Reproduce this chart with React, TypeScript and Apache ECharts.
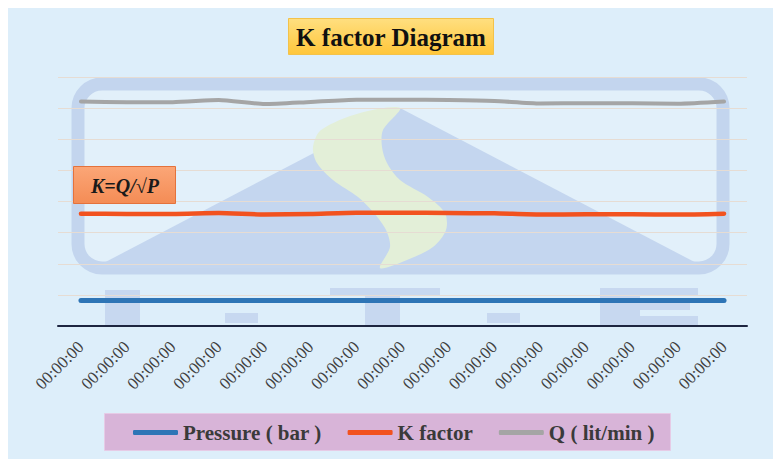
import React, { useEffect, useRef } from 'react';
import * as echarts from 'echarts';

const categories: string[] = [
  '00:00:00', '00:00:00', '00:00:00', '00:00:00', '00:00:00',
  '00:00:00', '00:00:00', '00:00:00', '00:00:00', '00:00:00',
  '00:00:00', '00:00:00', '00:00:00', '00:00:00', '00:00:00',
];

const pressure: number[] = [8.2, 8.2, 8.2, 8.2, 8.2, 8.2, 8.2, 8.2, 8.2, 8.2, 8.2, 8.2, 8.2, 8.2, 8.2];
const kFactor: number[] = [36.1, 36.0, 36.0, 36.3, 35.8, 36.0, 36.4, 36.4, 36.3, 36.2, 35.8, 35.9, 35.9, 35.8, 36.1];
const flow: number[] = [72.1, 71.9, 71.9, 72.6, 71.3, 72.0, 72.7, 72.7, 72.6, 72.3, 71.5, 71.6, 71.6, 71.4, 72.1];

const seriesNames: string[] = ['Pressure ( bar )', 'K factor', 'Q ( lit/min )'];
const seriesColors: string[] = ['#2e75b6', '#f2521f', '#a5a5a5'];

const yMin = 0;
const yMax = 80;
const yInterval = 10;

const titleText = 'K factor Diagram';
const formulaText = 'K=Q/√P';

const SERIF = 'Liberation Serif';

const sPoints: number[][] = [
  [400, 108], [383, 130], [382, 147], [387, 163], [400, 180], [428, 197], [445, 213],
  [446, 230], [433, 247], [402, 262], [380, 268], [390, 247], [386, 230], [374, 213],
  [358, 197], [333, 180], [317, 163], [313, 147], [321, 130], [360, 113],
];

export default function App() {
  const ref = useRef<HTMLDivElement>(null);

  useEffect(() => {
    if (!ref.current) return;
    const chart = echarts.init(ref.current, undefined, { renderer: 'svg' });

    const wm = '#c7d8f0';
    const watermark: any[] = [
      {
        type: 'rect', z: -10, silent: true,
        shape: { x: 70, y: 76, width: 645, height: 184, r: 24 },
        style: { fill: 'rgba(255,255,255,0.15)', stroke: '#c3d5ee', lineWidth: 13 },
      },
      {
        type: 'polygon', z: -10, silent: true,
        shape: { points: [[392, 100], [86, 260], [698, 260]] },
        style: { fill: '#c4d6ef' },
      },
      {
        type: 'polygon', z: -9, silent: true,
        shape: {
          smooth: 0.3,
          points: sPoints.map((p) => [p[0] - 8, p[1] - 8]),
        },
        style: { fill: '#e3efd8' },
      },
      { type: 'rect', z: -10, silent: true, shape: { x: 97, y: 282, width: 35, height: 35 }, style: { fill: wm } },
      { type: 'rect', z: -10, silent: true, shape: { x: 217, y: 305, width: 33, height: 10 }, style: { fill: wm } },
      { type: 'rect', z: -10, silent: true, shape: { x: 322, y: 280, width: 110, height: 8 }, style: { fill: wm } },
      { type: 'rect', z: -10, silent: true, shape: { x: 357, y: 288, width: 35, height: 29 }, style: { fill: wm } },
      { type: 'rect', z: -10, silent: true, shape: { x: 479, y: 305, width: 33, height: 10 }, style: { fill: wm } },
      { type: 'rect', z: -10, silent: true, shape: { x: 592, y: 280, width: 40, height: 37 }, style: { fill: wm } },
      { type: 'rect', z: -10, silent: true, shape: { x: 592, y: 280, width: 98, height: 8 }, style: { fill: wm } },
      { type: 'rect', z: -10, silent: true, shape: { x: 592, y: 295, width: 90, height: 7 }, style: { fill: wm } },
      { type: 'rect', z: -10, silent: true, shape: { x: 592, y: 308, width: 98, height: 9 }, style: { fill: wm } },
    ];

    const boxes: any[] = [
      {
        type: 'rect', z: 10,
        shape: { x: 280.5, y: 10.5, width: 205, height: 36 },
        style: {
          fill: new echarts.graphic.LinearGradient(0, 0, 0, 1, [
            { offset: 0, color: '#ffdf80' },
            { offset: 1, color: '#ffc63a' },
          ]),
          stroke: '#f3c24a', lineWidth: 1,
        },
      },
      {
        type: 'text', z: 11,
        style: {
          text: titleText, x: 383, y: 29,
          fontFamily: SERIF, fontWeight: 'bold', fontSize: 25,
          fill: '#111111',
          align: 'center', verticalAlign: 'middle',
          textAlign: 'center', textVerticalAlign: 'middle',
        },
      },
      {
        type: 'rect', z: 10,
        shape: { x: 65.5, y: 158.5, width: 102, height: 37 },
        style: {
          fill: new echarts.graphic.LinearGradient(0, 0, 0, 1, [
            { offset: 0, color: '#fba677' },
            { offset: 1, color: '#f48c55' },
          ]),
          stroke: '#e4723c', lineWidth: 1,
        },
      },
      {
        type: 'text', z: 11,
        style: {
          text: formulaText, x: 117, y: 178,
          fontFamily: SERIF, fontWeight: 'bold', fontStyle: 'italic', fontSize: 20,
          fill: '#1a1a1a',
          align: 'center', verticalAlign: 'middle',
          textAlign: 'center', textVerticalAlign: 'middle',
        },
      },
      {
        type: 'rect', z: 1,
        shape: { x: 96.5, y: 405.5, width: 566, height: 37 },
        style: { fill: '#d8b4d8', stroke: '#e6cbe6', lineWidth: 1 },
      },
    ];

    const values = [pressure, kFactor, flow];
    const widths = [5, 4.5, 4];

    chart.setOption({
      animation: false,
      backgroundColor: '#ddeefa',
      graphic: { elements: [...watermark, ...boxes] },
      legend: {
        data: seriesNames,
        left: 125,
        top: 414,
        padding: 0,
        itemGap: 26,
        itemWidth: 45,
        itemHeight: 5,
        icon: 'roundRect',
        textStyle: {
          fontFamily: SERIF,
          fontWeight: 'bold',
          fontSize: 21,
          color: '#3a3a3a',
        },
        z: 20,
      },
      grid: { left: 50, right: 26, top: 69, bottom: 133 },
      xAxis: {
        type: 'category',
        data: categories,
        boundaryGap: true,
        axisTick: { show: false },
        axisLine: { lineStyle: { color: '#1d2540', width: 2 } },
        axisLabel: {
          interval: 0,
          rotate: 45,
          margin: 18,
          fontFamily: SERIF,
          fontSize: 17,
          color: '#404040',
        },
        z: 5,
      },
      yAxis: {
        type: 'value',
        min: yMin,
        max: yMax,
        interval: yInterval,
        axisLabel: { show: false },
        axisLine: { show: false },
        axisTick: { show: false },
        splitLine: { lineStyle: { color: '#e6dcd3', width: 1 } },
      },
      series: seriesNames.map((name, i) => ({
        name,
        type: 'line',
        data: values[i],
        symbol: 'none',
        smooth: 0.2,
        color: seriesColors[i],
        lineStyle: { color: seriesColors[i], width: widths[i], cap: 'round', join: 'round' },
        z: 3,
      })),
    });

    return () => {
      chart.dispose();
    };
  }, []);

  return (
    <div
      ref={ref}
      style={{ position: 'absolute', left: 8, top: 8, width: 765, height: 451 }}
    />
  );
}
